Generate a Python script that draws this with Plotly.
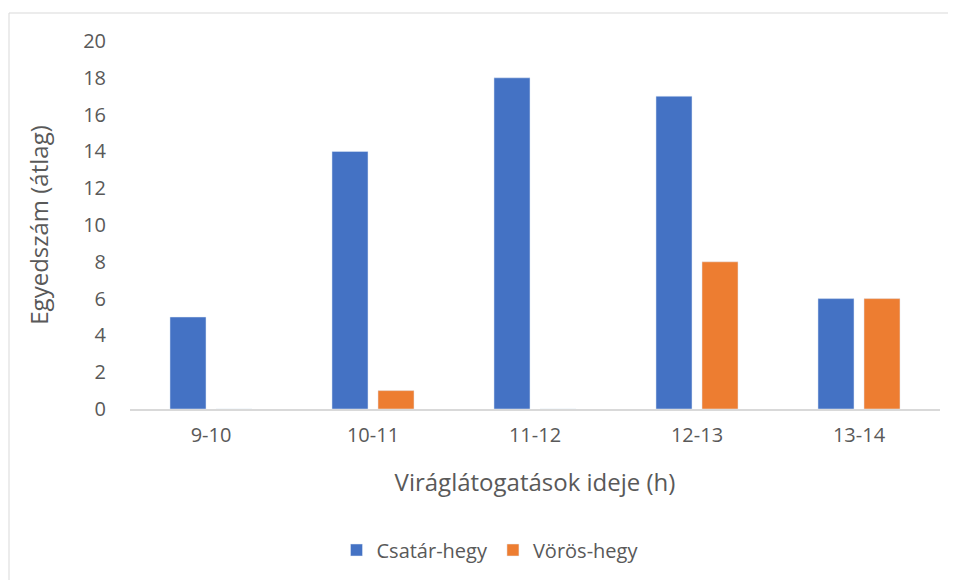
import plotly.graph_objects as go

categories = ["9-10", "10-11", "11-12", "12-13", "13-14"]
csatar = [5, 14, 18, 17, 6]
voros = [0, 1, 0, 8, 6]
y_ticks = list(range(0, 21, 2))

font_family = "Open Sans, Calibri, Carlito, sans-serif"
txt = "#595959"

fig = go.Figure()
fig.add_trace(go.Bar(x=categories, y=csatar, name="Csatár-hegy", marker_color="#4472C4"))
fig.add_trace(go.Bar(x=categories, y=voros, name="Vörös-hegy", marker_color="#ED7D31"))

OFF = 8  # page offset of the plot div
W, H = 956, 580
L, R, T, B = 130 - OFF, 940 - OFF, 41 - OFF, 409 - OFF
pw, ph = R - L, B - T

fig.update_layout(
    width=W, height=H,
    margin=dict(l=L, r=W - R, t=T, b=H - B, autoexpand=False),
    paper_bgcolor="white", plot_bgcolor="white",
    barmode="group", bargap=0.432, bargroupgap=0.217,
    font=dict(family=font_family, color=txt, size=20),
    legend=dict(orientation="h", x=(490 - OFF - L) / pw, xanchor="center",
                y=(B - (550 - OFF)) / ph, yanchor="middle",
                font=dict(size=20, color=txt), itemwidth=30, traceorder="normal"),
    xaxis=dict(type="category", showgrid=False, showline=True, linecolor="#d9d9d9", linewidth=1.5,
               ticks="", tickfont=dict(size=20, color=txt), ticklabelstandoff=7,
               title=dict(text="Viráglátogatások ideje (h)", font=dict(size=24, color=txt), standoff=27)),
    yaxis=dict(range=[0, 20], tickvals=y_ticks, showgrid=False, showline=False, zeroline=False,
               ticks="", tickfont=dict(size=20, color=txt), ticklabelstandoff=23,
               title=dict(text="Egyedszám (átlag)", font=dict(size=24, color=txt), standoff=27)),
    shapes=[dict(type="rect", xref="paper", yref="paper",
                 x0=(9 - OFF - L) / pw, x1=(W + 20 - L) / pw,
                 y0=(B - (H + 20)) / ph, y1=(B - (13 - OFF)) / ph,
                 line=dict(color="#d9d9d9", width=1), layer="below")],
)

fig.write_html("out.html")
